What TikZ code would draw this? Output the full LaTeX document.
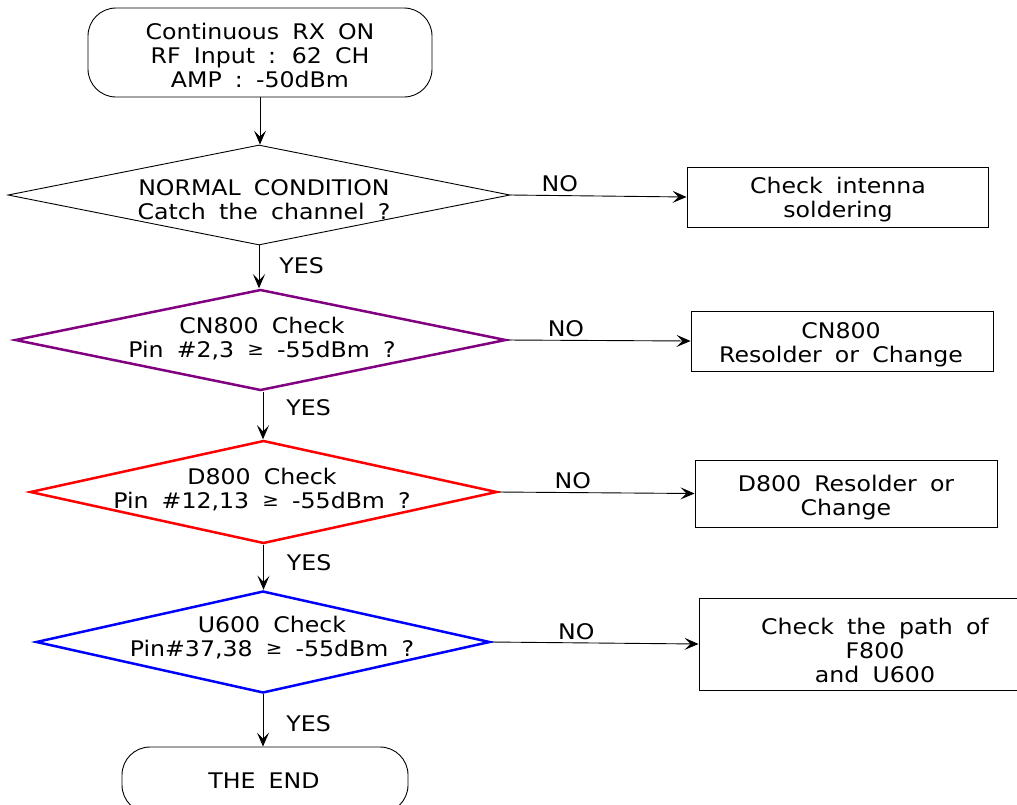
\documentclass[tikz,border=0pt]{standalone}
\usepackage{fontspec}
\setmainfont{DejaVu Sans}[FakeStretch=1.1,WordSpace=1.75]
\usetikzlibrary{shapes.geometric,arrows.meta}
\definecolor{cpurple}{RGB}{128,0,128}
\newcommand{\mygeq}{\raisebox{2.5pt}{\fontsize{18}{18}\selectfont ≥}}
\begin{document}
\begin{tikzpicture}[x=1pt,y=-1pt,
  txt/.style={align=center,inner sep=0pt,font=\fontsize{21.5}{24}\selectfont},
  term/.style={draw,rounded corners=28pt,line width=0.9pt},
  box/.style={draw,line width=0.9pt},
  dia/.style={draw,diamond,inner sep=0pt,aspect=5},
  arr/.style={-{Stealth[length=14pt,width=12pt,inset=6pt]},line width=0.9pt},
  lbl/.style={txt}]
\useasboundingbox (0,0) rectangle (1017,804);
% terminals
\node[term,minimum width=344pt,minimum height=89pt] (s) at (260,52.5) {};
\node[txt] (st) at (260,55) {Continuous RX ON\\RF Input : 62 CH\\AMP : -50dBm};
\node[term,minimum width=286pt,minimum height=66pt] (e) at (265,780) {};
\node[txt] (et) at (264,781) {THE END};
% diamonds
\node[dia,line width=0.9pt,minimum width=502pt,minimum height=100pt] (d1) at (259,195) {};
\node[txt] (d1t) at (264,200) {NORMAL CONDITION\\Catch the channel ?};
\node[dia,draw=cpurple,line width=2.5pt,minimum width=491pt,minimum height=101pt] (d2) at (260.5,340) {};
\node[txt] (d2t) at (262,339) {CN800 Check\\Pin \#2,3 \mygeq\ -55dBm ?};
\node[dia,draw=red,line width=2.5pt,minimum width=467pt,minimum height=103pt] (d3) at (263.5,492) {};
\node[txt] (d3t) at (262,490) {D800 Check\\Pin \#12,13 \mygeq\ -55dBm ?};
\node[dia,draw=blue,line width=2.5pt,minimum width=454pt,minimum height=102pt] (d4) at (263,642) {};
\node[txt] (d4t) at (272,638) {U600 Check\\Pin\#37,38 \mygeq\ -55dBm ?};
% boxes
\node[box,minimum width=301pt,minimum height=60pt] (b1) at (837.5,197) {};
\node[txt] (b1t) at (838,200) {Check intenna\\soldering};
\node[box,minimum width=302pt,minimum height=60pt] (b2) at (842,341) {};
\node[txt] (b2t) at (841,345) {CN800\\Resolder or Change};
\node[box,minimum width=302pt,minimum height=67pt] (b3) at (846,493.5) {};
\node[txt] (b3t) at (846,498) {D800 Resolder or\\Change};
\node[box,minimum width=352pt,minimum height=92pt] (b4) at (875,644) {};
\node[txt] (b4t) at (875,650) {Check the path of\\F800\\and U600};
% connectors
\draw[arr] (s.south) -- (s.south |- d1.north);
\draw[arr] (d1.south) -- (d2.north -| d1.south) node[lbl,pos=0.47,right=20pt] {YES};
\draw[arr] (d2.south) ++(2.5,0) coordinate (c2) -- (c2 |- d3.north) node[lbl,pos=0.34,right=23pt] {YES};
\draw[arr] (d3.south) -- (d4.north -| d3.south) node[lbl,pos=0.4,right=23pt] {YES};
\draw[arr] (d4.south) -- (e.north -| d4.south) node[lbl,pos=0.57,right=23pt] {YES};
\draw[arr] (d1.east) -- (b1.west) node[lbl,pos=0.28,above=3pt] {NO};
\draw[arr] (d2.east) -- (b2.west) node[lbl,pos=0.32,above=3pt] {NO};
\draw[arr] (d3.east) -- (b3.west) node[lbl,pos=0.38,above=3pt] {NO};
\draw[arr] (d4.east) -- (b4.west) node[lbl,pos=0.41,above=3pt] {NO};
\end{tikzpicture}
\end{document}
